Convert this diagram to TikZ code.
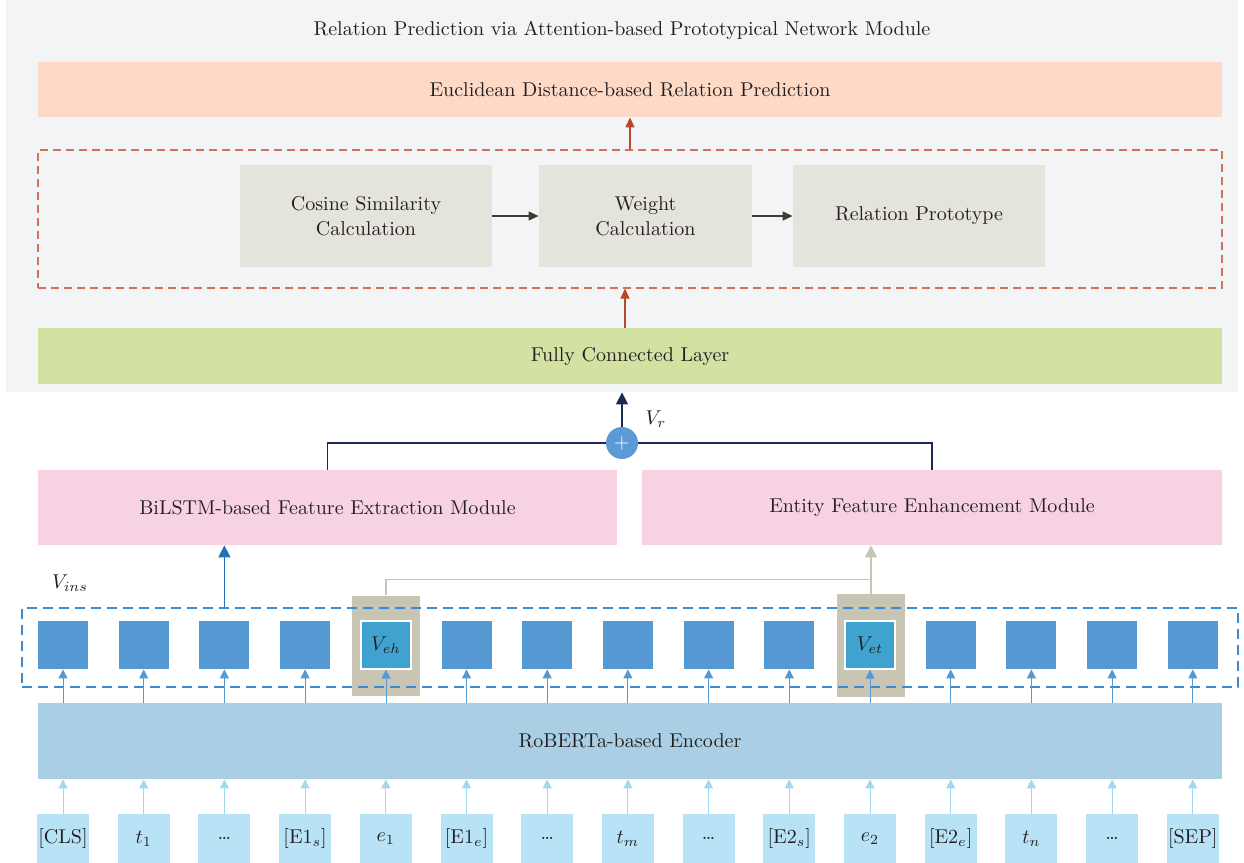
\documentclass[tikz,border=0pt]{standalone}
\usepackage{tikz}
\usetikzlibrary{arrows.meta}

\definecolor{panelgray}{HTML}{F3F4F6}
\definecolor{peach}{HTML}{FDD9C6}
\definecolor{rust}{HTML}{B5472B}
\definecolor{rustdash}{HTML}{D2705A}
\definecolor{stone}{HTML}{E5E4DC}
\definecolor{darkarrow}{HTML}{3C3C32}
\definecolor{leaf}{HTML}{D3E1A3}
\definecolor{navyline}{HTML}{1B2A52}
\definecolor{plusblue}{HTML}{5B9BD5}
\definecolor{pinkbox}{HTML}{F7D2E3}
\definecolor{deepblue}{HTML}{1F72B8}
\definecolor{dashblue}{HTML}{3C8AD0}
\definecolor{tanbox}{HTML}{C9C5B5}
\definecolor{featblue}{HTML}{5599D3}
\definecolor{entblue}{HTML}{40A2CF}
\definecolor{encblue}{HTML}{AACFE5}
\definecolor{tokblue}{HTML}{B8E2F5}
\definecolor{tokarrow}{HTML}{A5D8F0}
\definecolor{ink}{HTML}{231F20}

\begin{document}
\begin{tikzpicture}[x=0.5pt,y=-0.5pt,
    every node/.style={inner sep=0pt, text=ink, font=\fontsize{10}{12.5}\selectfont},
    block/.style={rectangle, align=center},
    feat/.style={rectangle, fill=featblue, minimum width=25pt, minimum height=24pt},
    token/.style={rectangle, fill=tokblue, minimum width=26pt, minimum height=24.5pt},
    tip/.style={-{Triangle[length=5pt,width=4.5pt]}},
    bigtip/.style={-{Triangle[length=6pt,width=6pt]}},
    smalltip/.style={-{Triangle[length=4.5pt,width=4.5pt]}}]

\fill[white] (0,0) rectangle (1244,863);
\useasboundingbox (0,0) rectangle (1244,863);

% prototypical network part
\node[fill=panelgray, minimum width=616pt, minimum height=196pt] (panel) at (622,196) {};
\node (title) at (622,30) {Relation Prediction via Attention-based Prototypical Network Module};
\node[block, fill=peach, minimum width=592pt, minimum height=27.5pt] (euc) at (630,89.5)
    {Euclidean Distance-based Relation Prediction};
\node[block, draw=rustdash, dash pattern=on 4pt off 2.5pt, line width=0.6pt, minimum width=592pt, minimum height=69pt] (attn) at (630,219) {};
\node[block, fill=stone, minimum width=126pt, minimum height=51pt] (cos) at (366,216)
    {Cosine Similarity\\Calculation};
\node[block, fill=stone, minimum width=106.5pt, minimum height=51pt] (wgt) at (645.5,216)
    {Weight\\Calculation};
\node[block, fill=stone, minimum width=126pt, minimum height=51pt] (proto) at (919,216)
    {Relation Prototype};
\node[block, fill=leaf, minimum width=592pt, minimum height=28pt] (fc) at (630,356)
    {Fully Connected Layer};

\draw[tip, darkarrow, line width=0.6pt] (cos) -- (wgt);
\draw[tip, darkarrow, line width=0.6pt] (wgt) -- (proto);
\draw[tip, rust, line width=0.6pt] (attn.north) -- (euc.south);
\draw[tip, rust, line width=0.6pt] ([xshift=-2.5pt]fc.north) -- ([xshift=-2.5pt]attn.south);

% fusion
\node[circle, fill=plusblue, minimum size=16pt, text=white] (plus) at (622,443) {+};
\node (vr) at (656,419) {$V_r$};
\node[block, fill=pinkbox, minimum width=289.5pt, minimum height=37.5pt] (bilstm) at (327.5,507.5)
    {BiLSTM-based Feature Extraction Module};
\node[block, fill=pinkbox, minimum width=290pt, minimum height=37.5pt] (entity) at (932,507.5)
    {Entity Feature Enhancement Module};

\draw[navyline, line width=0.75pt] (bilstm.north) |- (plus.west);
\draw[navyline, line width=0.75pt] (entity.north) |- (plus.east);
\draw[bigtip, navyline, line width=0.75pt] (plus.north) -- (plus.north |- panel.south);

% token features
\node[fill=tanbox, minimum width=34pt, minimum height=50pt] (tanh) at (386,645.5) {};
\node[fill=tanbox, minimum width=34pt, minimum height=51.5pt] (tant) at (871,645.5) {};
\node[draw=dashblue, dash pattern=on 5pt off 3pt, line width=0.75pt, minimum width=608pt, minimum height=39.5pt] (ins) at (630,647.5) {};
\node (vins) at (70,583) {$V_{ins}$};

\foreach \i in {1,2,3,4,6,7,8,9,10,12,13,14,15}
    \node[feat] (sq\i) at ({63+80.7*(\i-1)},645) {};
\node[feat, fill=entblue, draw=white, line width=0.6pt] (sq5) at (386,645) {$V_{eh}$};
\node[feat, fill=entblue, draw=white, line width=0.6pt] (sq11) at (870,645) {$V_{et}$};

\draw[bigtip, deepblue, line width=0.75pt] (ins.north -| sq3) -- (bilstm.south -| sq3);
\draw[bigtip, tanbox, line width=0.75pt] (tant.north) -- (tant.north |- entity.south);
\draw[tanbox, line width=0.75pt] (tanh.north) |- ([yshift=7pt]tant.north);

% encoder and input tokens
\node[block, fill=encblue, minimum width=592pt, minimum height=38pt] (enc) at (630,741)
    {RoBERTa-based Encoder};

\foreach \lab [count=\i] in {{[CLS]},{$t_1$},{\ldots},{[E1$_s$]},{$e_1$},{[E1$_e$]},{\ldots},{$t_m$},
        {\ldots},{[E2$_s$]},{$e_2$},{[E2$_e$]},{$t_n$},{\ldots},{[SEP]}}
    \node[token] (tok\i) at ({63+80.7*(\i-1)},838.5) {\lab};

\foreach \i in {1,...,15} {
    \draw[smalltip, featblue, line width=0.5pt] (enc.north -| sq\i) -- (sq\i.south);
    \draw[smalltip, tokarrow, line width=0.5pt] (tok\i.north) -- (tok\i.north |- enc.south);
}

\end{tikzpicture}
\end{document}
